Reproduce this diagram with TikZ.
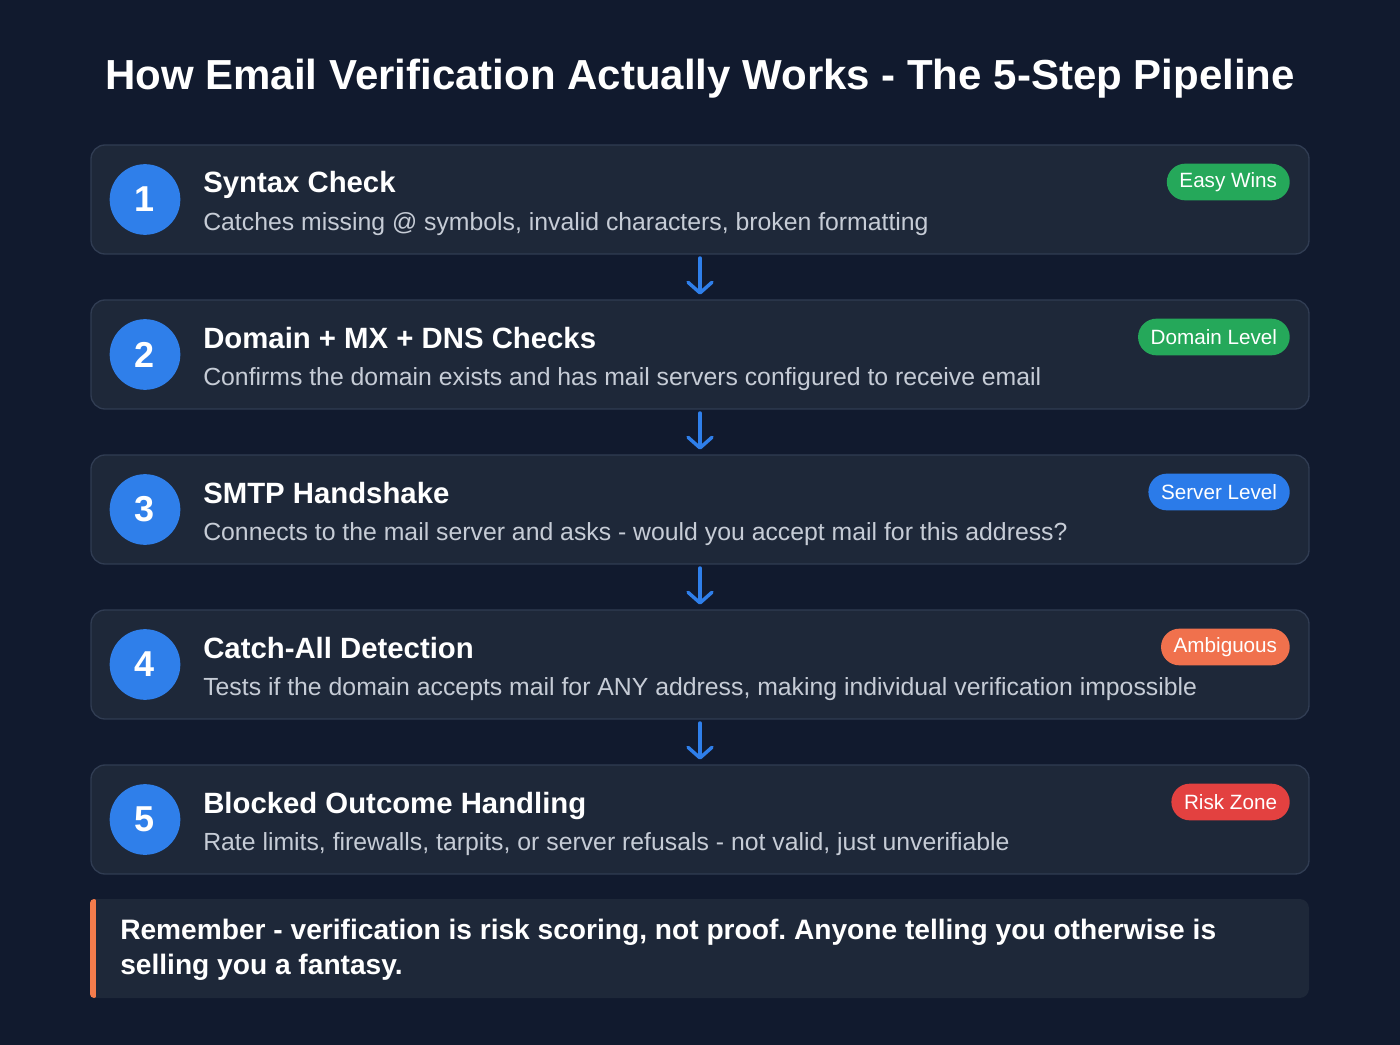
\documentclass[tikz,border=0pt]{standalone}
\usepackage{fontspec}
\setmainfont{Liberation Sans}
\usetikzlibrary{arrows.meta}
\definecolor{pagebg}{HTML}{111A2E}
\definecolor{cardbg}{HTML}{1E2839}
\definecolor{cardline}{HTML}{303C52}
\definecolor{stepblue}{HTML}{2F7FEA}
\definecolor{desctext}{HTML}{C6CCD6}
\definecolor{easygreen}{HTML}{25A85A}
\definecolor{serverblue}{HTML}{2B7BE9}
\definecolor{ambigorange}{HTML}{F0714D}
\definecolor{riskred}{HTML}{E34140}
\definecolor{notebar}{HTML}{F47C4C}
\frenchspacing
\tikzset{
  card/.style={draw=cardline, fill=cardbg, line width=1pt, rounded corners=10.5pt,
    minimum width=913.5pt, minimum height=81.75pt},
  numdot/.style={circle, fill=stepblue, minimum size=53pt, inner sep=0pt, text=white,
    font=\bfseries\fontsize{27}{30}\selectfont},
  ttl/.style={anchor=base west, text=white, inner sep=0pt, font=\bfseries\fontsize{22}{26}\selectfont},
  desc/.style={anchor=base west, text=desctext, inner sep=0pt, font=\fontsize{18.6}{22}\selectfont},
  badge/.style={anchor=east, rounded corners=13.8pt, minimum height=27.5pt, inner xsep=9.5pt,
    inner ysep=0pt, text=white, font=\fontsize{15.5}{18}\selectfont},
  flow/.style={draw=stepblue, line width=2.6pt, line cap=round,
    -{Straight Barb[length=8pt,width=18pt,round]}}
}
\begin{document}
\begin{tikzpicture}[x=0.75pt, y=-0.75pt]
  \fill[pagebg] (0,0) rectangle (1400,1045);
  \useasboundingbox (0,0) rectangle (1400,1045);
  \node[text=white, font=\bfseries\fontsize{31.5}{36}\selectfont, anchor=base] (title) at (700,90)
    {How Email Verification Actually Works - The 5-Step Pipeline};

  % the five steps
  \foreach \i/\head/\txt/\tag/\tagcol in {
    1/Syntax Check/{Catches missing @ symbols, invalid characters, broken formatting}/Easy Wins/easygreen,
    2/Domain + MX + DNS Checks/{Confirms the domain exists and has mail servers configured to receive email}/Domain Level/easygreen,
    3/SMTP Handshake/{Connects to the mail server and asks - would you accept mail for this address?}/Server Level/serverblue,
    4/Catch-All Detection/{Tests if the domain accepts mail for ANY address, making individual verification impossible}/Ambiguous/ambigorange,
    5/Blocked Outcome Handling/{Rate limits, firewalls, tarpits, or server refusals - not valid, just unverifiable}/Risk Zone/riskred} {
    \pgfmathsetmacro\cy{199.5+155*(\i-1)}
    \node[card] (card\i) at (700,\cy) {};
    \node[numdot] (num\i) at (145,\cy) {\i};
    \node[ttl] (head\i) at (203,\cy-6.5) {\head};
    \node[desc] (txt\i) at (203,\cy+30.5) {\txt};
    \node[badge, fill=\tagcol] (tag\i) at (1290,\cy-17.5) {\tag};
  }

  % arrows between steps
  \foreach \i [evaluate=\i as \j using int(\i+1)] in {1,...,4}
    \draw[flow] ([yshift=-2.5pt]card\i.south) -- ([yshift=3.5pt]card\j.north);

  % closing note
  \fill[cardbg, rounded corners=7pt] (90,899) rectangle (1309,998);
  \fill[notebar, rounded corners=3pt] (90,899) rectangle (98,998);
  \fill[cardbg] (96,899) rectangle (102,998);
  \node[anchor=north west, align=left, text=white, inner sep=0pt,
    font=\bfseries\fontsize{21.1}{26}\selectfont] (note) at (120,919)
    {Remember - verification is risk scoring, not proof. Anyone telling you otherwise is\\
     selling you a fantasy.};
\end{tikzpicture}
\end{document}
